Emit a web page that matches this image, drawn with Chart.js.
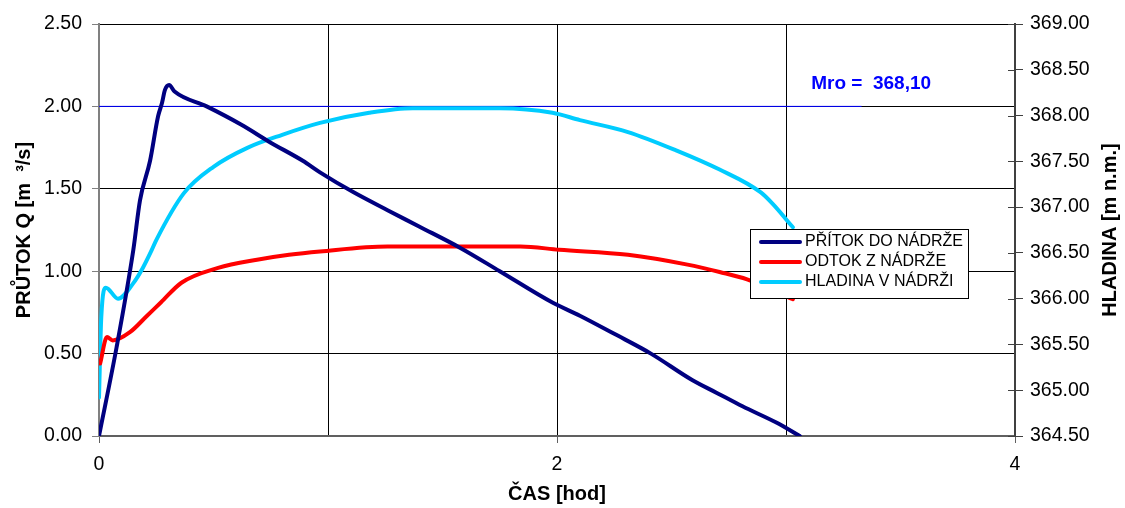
<!DOCTYPE html>
<html>
<head>
<meta charset="utf-8">
<script src="https://cdn.jsdelivr.net/npm/chart.js@4.4.1/dist/chart.umd.min.js"></script>
<style>
  html, body { margin: 0; padding: 0; background: #fff; }
  #wrap { width: 1125px; height: 508px; }
</style>
</head>
<body>
<div id="wrap"><canvas id="chart" width="1125" height="508"></canvas></div>
<script>
// --- data ---
const timeInflow = [0, 0.077, 0.15, 0.179, 0.223, 0.258, 0.275, 0.288, 0.306, 0.33, 0.47, 0.62, 0.75, 0.89, 0.965, 1.11, 1.26, 1.40, 1.58, 1.75, 1.98, 2.10, 2.25, 2.41, 2.59, 2.70, 2.81, 2.96, 3.06];
const inflowQ    = [0, 0.54, 1.13, 1.43, 1.67, 1.94, 2.02, 2.10, 2.13, 2.09, 2.00, 1.89, 1.78, 1.67, 1.60, 1.48, 1.37, 1.27, 1.14, 1.00, 0.81, 0.73, 0.62, 0.50, 0.34, 0.26, 0.18, 0.08, 0];

const timeOutflow = [0.005, 0.035, 0.06, 0.135, 0.21, 0.27, 0.36, 0.52, 0.69, 0.83, 0.965, 1.26, 1.50, 1.84, 2.01, 2.31, 2.57, 2.71, 2.83, 3.03];
const outflowQ    = [0.44, 0.60, 0.58, 0.63, 0.73, 0.81, 0.93, 1.02, 1.07, 1.10, 1.12, 1.15, 1.15, 1.15, 1.13, 1.10, 1.04, 0.995, 0.95, 0.83];

const timeLevel = [0, 0.01, 0.03, 0.083, 0.15, 0.19, 0.23, 0.25, 0.37, 0.50, 0.65, 0.80, 0.965, 1.18, 1.37, 1.75, 1.98, 2.10, 2.31, 2.52, 2.71, 2.89, 2.94, 3.03];
const levelH    = [364.92, 365.80, 366.12, 366.00, 366.17, 366.33, 366.53, 366.64, 367.15, 367.44, 367.65, 367.79, 367.92, 368.03, 368.08, 368.08, 368.03, 367.95, 367.82, 367.62, 367.41, 367.16, 367.04, 366.78];

const mroLevel = 368.10;
const mroSpan = [0, 3.33];

const seriesLabels = ['PŘÍTOK DO NÁDRŽE', 'ODTOK Z NÁDRŽE', 'HLADINA V NÁDRŽI'];
const seriesColors = ['#000080', '#ff0000', '#00ccff'];

const FONT = '"Liberation Sans", Arial, sans-serif';

function pts(xs, ys){
  return xs.map((x, i) => ({ x, y: ys[i] }));
}

// legend, right title, Mro label and inner ticks of the right axis
const overlay = {
  id: 'overlay',
  afterDraw(chart){
    const { ctx, chartArea: a, scales } = chart;
    const yR = scales.y1;
    ctx.save();

    ctx.strokeStyle = '#404040';
    ctx.lineWidth = 1;
    yR.ticks.forEach(t => {
      const py = Math.round(yR.getPixelForValue(t.value)) + 0.5;
      ctx.beginPath();
      ctx.moveTo(a.right - 7, py);
      ctx.lineTo(a.right, py);
      ctx.stroke();
    });

    // Mro label
    ctx.fillStyle = '#0000ff';
    ctx.font = 'bold 19px ' + FONT;
    ctx.textAlign = 'left';
    ctx.textBaseline = 'middle';
    ctx.fillText('Mro =  ' + mroLevel.toFixed(2).replace('.', ','),
      scales.x.getPixelForValue(3.11), yR.getPixelForValue(mroLevel) - 23);

    // right axis title (reads bottom to top)
    ctx.save();
    ctx.translate(1110, 230);
    ctx.rotate(-Math.PI / 2);
    ctx.fillStyle = '#000';
    ctx.font = 'bold 20px ' + FONT;
    ctx.textAlign = 'center';
    ctx.fillText('HLADINA [m n.m.]', 0, 0);
    ctx.restore();

    // legend box
    const bx = 750, by = 229, bw = 218, bh = 69;
    ctx.fillStyle = '#fff';
    ctx.fillRect(bx, by, bw, bh);
    ctx.strokeStyle = '#000';
    ctx.lineWidth = 1;
    ctx.strokeRect(bx + 0.5, by + 0.5, bw, bh);
    ctx.font = '16px ' + FONT;
    ctx.textAlign = 'left';
    ctx.textBaseline = 'middle';
    ctx.lineCap = 'round';
    seriesLabels.forEach((lbl, i) => {
      const yy = by + 13 + i * 20;
      ctx.strokeStyle = seriesColors[i];
      ctx.lineWidth = 4;
      ctx.beginPath();
      ctx.moveTo(761, yy);
      ctx.lineTo(800, yy);
      ctx.stroke();
      ctx.fillStyle = '#000';
      ctx.fillText(lbl, 805, yy);
    });

    ctx.restore();
  }
};

const lineStyle = { borderWidth: 4, pointRadius: 0, cubicInterpolationMode: 'monotone', fill: false, borderJoinStyle: 'round', borderCapStyle: 'round' };

new Chart(document.getElementById('chart'), {
  type: 'line',
  data: {
    datasets: [
      { label: seriesLabels[0], data: pts(timeInflow, inflowQ), borderColor: seriesColors[0], yAxisID: 'y', ...lineStyle },
      { label: seriesLabels[1], data: pts(timeOutflow, outflowQ), borderColor: seriesColors[1], yAxisID: 'y', ...lineStyle },
      { label: seriesLabels[2], data: pts(timeLevel, levelH), borderColor: seriesColors[2], yAxisID: 'y1', ...lineStyle },
      { label: 'Mro', data: pts(mroSpan, [mroLevel, mroLevel]), borderColor: '#0000ff', borderWidth: 1, pointRadius: 0, yAxisID: 'y1' }
    ]
  },
  options: {
    responsive: false,
    animation: false,
    devicePixelRatio: 1,
    layout: { padding: { top: 24, left: 0, right: 0, bottom: 0 } },
    plugins: { legend: { display: false }, tooltip: { enabled: false } },
    scales: {
      x: {
        type: 'linear', min: 0, max: 4,
        afterFit: s => { s.height = 72; },
        ticks: {
          stepSize: 1, padding: 10, color: '#000',
          font: { family: FONT, size: 19.5 },
          callback: v => (v % 2 === 0 ? String(v) : '')
        },
        grid: {
          color: '#000', lineWidth: 1, tickLength: 7,
          tickColor: c => (c.tick && c.tick.value % 2 === 0 ? '#606060' : 'rgba(0,0,0,0)')
        },
        border: { color: '#606060', width: 2 },
        title: { display: true, text: 'ČAS [hod]', color: '#000', font: { family: FONT, size: 20, weight: 'bold' }, padding: { top: 0, bottom: 2 } }
      },
      y: {
        position: 'left', min: 0, max: 2.5,
        afterFit: s => { s.width = 99; },
        ticks: { stepSize: 0.5, padding: 10, color: '#000', font: { family: FONT, size: 19.5 }, callback: v => v.toFixed(2) },
        grid: { color: '#000', lineWidth: 1, tickLength: 7, tickColor: '#808080' },
        border: { color: '#808080', width: 2 },
        title: { display: true, text: 'PRŮTOK Q [m  ³/s]', color: '#000', font: { family: FONT, size: 20, weight: 'bold' }, padding: { top: 12, bottom: 0 } }
      },
      y1: {
        position: 'right', min: 364.5, max: 369,
        afterFit: s => { s.width = 110; },
        ticks: { stepSize: 0.5, padding: 7, color: '#000', font: { family: FONT, size: 19.5 }, callback: v => v.toFixed(2) },
        grid: { drawOnChartArea: false, tickLength: 8, tickColor: '#404040' },
        border: { color: '#404040', width: 2 }
      }
    }
  },
  plugins: [overlay]
});
</script>
</body>
</html>
